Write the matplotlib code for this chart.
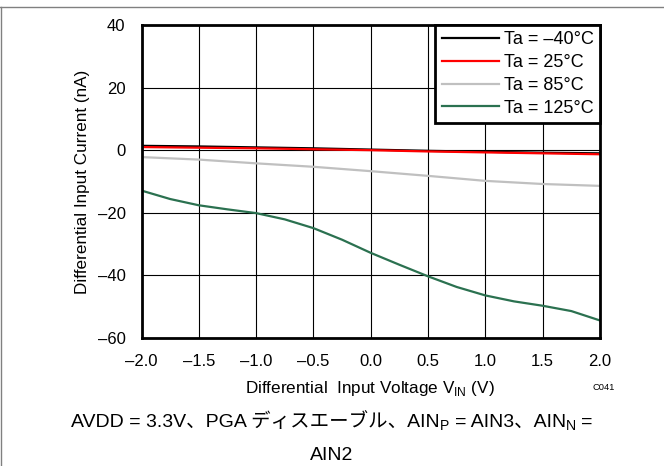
import numpy as np
import matplotlib
matplotlib.use("Agg")
import matplotlib.pyplot as plt
from matplotlib.lines import Line2D

plt.rcParams['font.family'] = ['Liberation Sans', 'Noto Sans CJK JP']
plt.rcParams['mathtext.fontset'] = 'custom'
plt.rcParams['mathtext.rm'] = 'Liberation Sans'

W, H = 664, 466

# differential input voltage (V)
v_coarse = [-2.0, -1.5, -1.0, -0.5, 0.0, 0.5, 1.0, 1.5, 2.0]
v_fine = [-2.0, -1.75, -1.5, -1.25, -1.0, -0.75, -0.5, -0.25, 0.0,
          0.25, 0.5, 0.75, 1.0, 1.25, 1.5, 1.75, 2.0]

# differential input current (nA)
i_m40 = [1.4, 1.2, 0.9, 0.6, 0.2, -0.2, -0.5, -0.8, -1.0]
i_25 = [1.0, 0.8, 0.6, 0.3, 0.0, -0.4, -0.7, -1.0, -1.3]
i_85 = [-2.2, -3.0, -4.2, -5.3, -6.7, -8.2, -9.8, -10.8, -11.4]
i_125 = [-12.9, -15.6, -17.6, -18.9, -20.1, -22.1, -24.9, -28.6, -32.8,
         -36.6, -40.3, -43.7, -46.4, -48.3, -49.7, -51.4, -54.4]

labels = ['Ta = \u201340\u00b0C', 'Ta = 25\u00b0C', 'Ta = 85\u00b0C', 'Ta = 125\u00b0C']
colors = ['black', '#ff0000', '#c0c0c0', '#2b7150']

x_ticks = [-2.0, -1.5, -1.0, -0.5, 0.0, 0.5, 1.0, 1.5, 2.0]
y_ticks = [-60, -40, -20, 0, 20, 40]

fig = plt.figure(figsize=(W / 100, H / 100), dpi=100)
ax = fig.add_axes([141.5 / W, 1 - 338 / H, (600 - 141.5) / W, (338 - 25) / H])

ax.plot(v_coarse, i_m40, color=colors[0], lw=1.6, label=labels[0])
ax.plot(v_coarse, i_25, color=colors[1], lw=1.6, label=labels[1])
ax.plot(v_coarse, i_85, color=colors[2], lw=1.6, label=labels[2])
ax.plot(v_fine, i_125, color=colors[3], lw=1.6, label=labels[3])

ax.set_xlim(-2, 2)
ax.set_ylim(-60, 40)
ax.set_xticks(x_ticks)
ax.set_xticklabels([f'{v:.1f}'.replace('-', '\u2013') for v in x_ticks])
ax.set_yticks(y_ticks)
ax.set_yticklabels([str(v).replace('-', '\u2013') for v in y_ticks])
ax.tick_params(axis='x', length=0, pad=11.5, labelsize=12)
ax.tick_params(axis='y', length=0, pad=11.5, labelsize=12)
ax.grid(True, color='black', lw=0.8)
ax.set_axisbelow(True)
for s in ax.spines.values():
    s.set_linewidth(2)
    s.set_color('black')

leg = ax.legend(loc='upper right', borderaxespad=0, fancybox=False,
                edgecolor='black', framealpha=1, fontsize=13,
                handlelength=3.2, handletextpad=0.25, labelspacing=0.32,
                borderpad=0.35)
leg.get_frame().set_linewidth(2)

fig.text(370 / W, 1 - 388 / H, 'Differential  Input Voltage V$_\\mathregular{IN}$ (V)',
         ha='center', va='center', fontsize=12.3)
fig.text(83 / W, 1 - 181.5 / H, 'Differential Input Current (nA)',
         ha='center', va='center', rotation=90, fontsize=12.3)
fig.text(604 / W, 1 - 387 / H, 'C041', ha='center', va='center', fontsize=6.7)

# outer frame (top and left edges)
fig.add_artist(Line2D([0, 1], [1 - 6.5 / H, 1 - 6.5 / H], transform=fig.transFigure,
                      color='#808080', lw=1))
fig.add_artist(Line2D([1 / W, 1 / W], [0, 1 - 6.5 / H], transform=fig.transFigure,
                      color='#808080', lw=1))


def caption_line(pieces, base_px, size):
    r = fig.canvas.get_renderer()
    items = []
    total = 0.0
    for s, kind in pieces:
        if kind == 'gap':
            items.append((None, s, kind))
            total += s
            continue
        fs = size * 0.72 if kind == 'sub' else size
        t = fig.text(0, 1 - base_px / H, s, fontsize=fs, va='baseline', ha='left')
        w = t.get_window_extent(r).width
        items.append((t, w, kind))
        total += w
    x = (W - total) / 2
    for t, w, kind in items:
        if t is not None:
            t.set_x(x / W)
            if kind == 'sub':
                t.set_y(1 - (base_px + 3.5) / H)
        x += w


cap = 14
gap = 0.278 * cap * 100 / 72
caption_line([('AVDD = 3.3V、PGA ディスエーブル、AIN', 'main'), ('P', 'sub'), (gap, 'gap'),
              ('= AIN3、AIN', 'main'), ('N', 'sub'), (gap, 'gap'), ('=', 'main')], 427, cap)
caption_line([('AIN2', 'main')], 460, cap)

fig.savefig('out.png', dpi=100)
